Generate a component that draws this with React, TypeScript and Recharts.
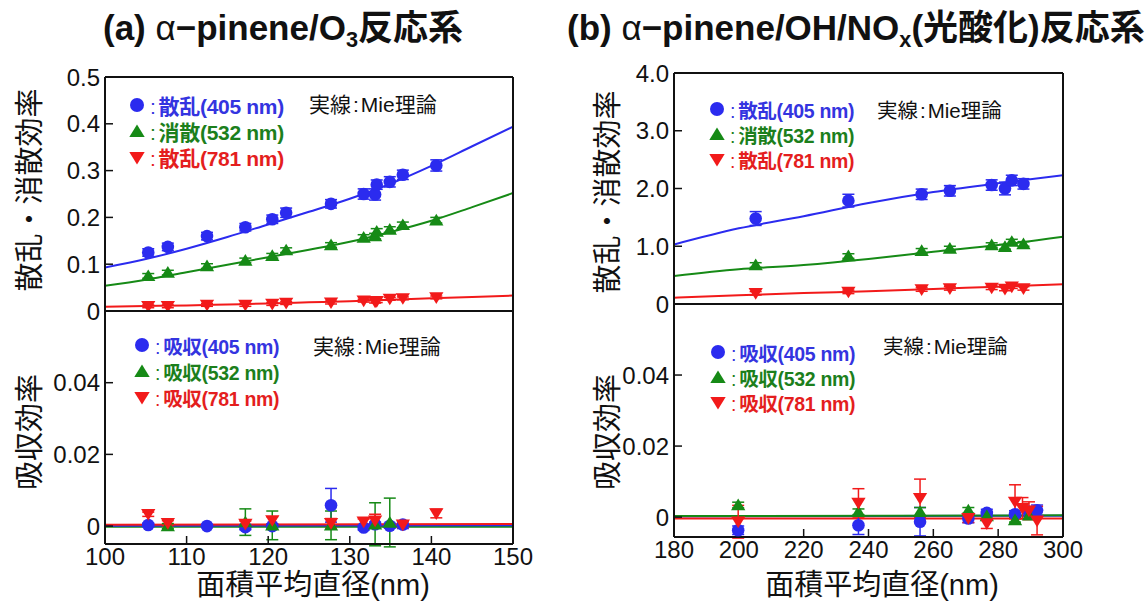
import React from "react";
import { ComposedChart, Scatter, Line, XAxis, YAxis, ErrorBar } from "recharts";

const FONT = '"Liberation Sans", Arial, "Noto Sans CJK JP", sans-serif';
const BLUE = "#2b2bef";
const GREEN = "#168a16";
const RED = "#f21a1a";
const TXT_BLUE = "#3434e0";
const TXT_GREEN = "#1c7f1c";
const TXT_RED = "#e41e1e";

// ---- (a) α-pinene/O3 : scattering / extinction efficiency ----
const aX = [105.3, 107.7, 112.5, 117.2, 120.5, 122.2, 127.7, 131.7, 133.1, 133.3, 134.9, 136.5, 140.6];
const aSca405 = [0.125, 0.137, 0.16, 0.179, 0.196, 0.21, 0.229, 0.25, 0.249, 0.27, 0.276, 0.291, 0.311];
const aSca405Err = [0.008, 0.008, 0.008, 0.008, 0.009, 0.01, 0.009, 0.011, 0.012, 0.01, 0.011, 0.01, 0.012];
const aExt532 = [0.075, 0.082, 0.096, 0.108, 0.118, 0.13, 0.141, 0.157, 0.16, 0.17, 0.174, 0.184, 0.194];
const aExt532Err = [0.005, 0.005, 0.005, 0.005, 0.005, 0.005, 0.005, 0.006, 0.006, 0.006, 0.006, 0.006, 0.006];
const aSca781 = [0.01, 0.01, 0.013, 0.013, 0.015, 0.017, 0.018, 0.022, 0.02, 0.021, 0.026, 0.027, 0.029];
const aSca781Err = [0.003, 0.003, 0.003, 0.003, 0.003, 0.003, 0.003, 0.003, 0.003, 0.003, 0.003, 0.003, 0.003];

// Mie theory curves (a)
const aCurveX = [100, 105, 110, 115, 120, 125, 130, 135, 140, 145, 150];
const aMie405 = [0.093, 0.111, 0.133, 0.158, 0.185, 0.212, 0.24, 0.272, 0.31, 0.352, 0.394];
const aMie532 = [0.054, 0.067, 0.083, 0.099, 0.115, 0.131, 0.148, 0.169, 0.193, 0.222, 0.252];
const aMie781 = [0.009, 0.0105, 0.012, 0.014, 0.016, 0.0185, 0.021, 0.024, 0.027, 0.03, 0.033];

// ---- (a) absorption efficiency ----
const aAbs405X = [105.3, 112.5, 117.2, 120.5, 127.7, 131.7, 133.1, 134.9, 136.5];
const aAbs405 = [0.0003, 0.0, -0.0003, 0.0, 0.0058, -0.0004, 0.0005, 0.0001, 0.0004];
const aAbs405Err = [0.0005, 0.0004, 0.0007, 0.0006, 0.0047, 0.0007, 0.0006, 0.0007, 0.0011];
const aAbs532X = [107.7, 117.2, 120.5, 127.7, 133.1, 134.9];
const aAbs532 = [0.0, 0.0011, 0.0002, 0.0002, 0.0005, 0.001];
const aAbs532Err = [0.0007, 0.0037, 0.004, 0.004, 0.006, 0.0068];
const aAbs781X = [105.3, 107.7, 117.2, 120.5, 127.7, 131.7, 133.1, 136.5, 140.6];
const aAbs781 = [0.0033, 0.0008, 0.0006, 0.0016, 0.0008, 0.0012, 0.0015, 0.0004, 0.0035];
const aAbs781Err = [0.0006, 0.0007, 0.0008, 0.001, 0.0013, 0.0008, 0.0018, 0.0008, 0.0012];

const aAbsCurveX = [100, 150];
const aAbsMie405 = [0.0001, 0.0002];
const aAbsMie532 = [-0.0002, -0.0002];
const aAbsMie781 = [0.0004, 0.0006];

// ---- (b) α-pinene/OH/NOx : scattering / extinction efficiency ----
const bX = [205.2, 233.8, 256.4, 265.1, 278.0, 282.1, 284.2, 287.8];
const bSca405 = [1.48, 1.79, 1.9, 1.96, 2.06, 2.0, 2.14, 2.08];
const bSca405Err = [0.12, 0.11, 0.09, 0.09, 0.09, 0.11, 0.09, 0.09];
const bExt532 = [0.675, 0.83, 0.92, 0.96, 1.02, 0.99, 1.08, 1.04];
const bExt532Err = [0.04, 0.04, 0.04, 0.04, 0.04, 0.04, 0.04, 0.04];
const bSca781 = [0.185, 0.21, 0.25, 0.27, 0.28, 0.26, 0.3, 0.27];
const bSca781Err = [0.03, 0.03, 0.03, 0.03, 0.03, 0.03, 0.03, 0.03];

const bCurveX = [180, 200, 220, 240, 260, 280, 300];
const bMie405 = [1.03, 1.31, 1.52, 1.75, 1.94, 2.09, 2.23];
const bMie532 = [0.485, 0.6, 0.675, 0.78, 0.905, 1.02, 1.165];
const bMie781 = [0.11, 0.15, 0.19, 0.22, 0.26, 0.3, 0.34];

// ---- (b) absorption efficiency ----
const bAbs405X = [199.8, 236.9, 255.9, 270.8, 276.5, 285.2, 289.5, 292.0];
const bAbs405 = [-0.0037, -0.0023, -0.0013, -0.0004, 0.0012, 0.0008, 0.0015, 0.0019];
const bAbs405Err = [0.0012, 0.0026, 0.004, 0.0012, 0.001, 0.001, 0.0012, 0.0015];
const bAbs532X = [199.8, 236.9, 255.9, 270.8, 276.5, 285.2, 289.5];
const bAbs532 = [0.0034, 0.0015, 0.0015, 0.0019, 0.0003, -0.0008, 0.0005];
const bAbs532Err = [0.0008, 0.0008, 0.0012, 0.0008, 0.0006, 0.0006, 0.001];
const bAbs781X = [199.8, 236.9, 255.9, 270.8, 276.5, 285.2, 287.5, 289.5, 292.0];
const bAbs781 = [-0.0013, 0.004, 0.0053, -0.0003, -0.0018, 0.0043, 0.0025, 0.0018, -0.001];
const bAbs781Err = [0.0046, 0.004, 0.0054, 0.0012, 0.0014, 0.0048, 0.003, 0.0025, 0.004];

const bAbsCurveX = [180, 300];
const bAbsMie405 = [0.0002, 0.0004];
const bAbsMie532 = [0.0003, 0.0005];
const bAbsMie781 = [-0.0004, -0.0004];

// axis ticks
const aXTicks = [100, 110, 120, 130, 140, 150];
const bXTicks = [180, 200, 220, 240, 260, 280, 300];
const aUpperTicks = [0, 0.1, 0.2, 0.3, 0.4, 0.5];
const bUpperTicks = [0, 1, 2, 3, 4];
const absTicks = [0, 0.02, 0.04];

type Pt = { x: number; y: number; e: number };
const zip = (xs: number[], ys: number[], es?: number[]): Pt[] =>
  xs.map((x, i) => ({ x, y: ys[i], e: es ? es[i] : 0 }));

type Kind = "circle" | "up" | "down";

function markerPath(kind: Kind, cx: number, cy: number, s: number) {
  if (kind === "up") return `M${cx},${cy - s} L${cx + s * 1.1},${cy + s * 0.8} L${cx - s * 1.1},${cy + s * 0.8}Z`;
  return `M${cx},${cy + s} L${cx + s * 1.1},${cy - s * 0.8} L${cx - s * 1.1},${cy - s * 0.8}Z`;
}

const makeShape = (kind: Kind, color: string) => (p: any) => {
  if (p.cx == null || p.cy == null) return <g />;
  if (kind === "circle") return <circle cx={p.cx} cy={p.cy} r={6.3} fill={color} />;
  return <path d={markerPath(kind, p.cx, p.cy, 6.5)} fill={color} />;
};

type Series = { data: Pt[]; color: string; kind: Kind };
type Curve = { data: Pt[]; color: string };
type Box = { left: number; top: number; right: number; bottom: number };

const axisLine = { stroke: "#111", strokeWidth: 2 };
const tickLine = { stroke: "#111", strokeWidth: 1.5 };
const tickFont = { fontSize: 24, fill: "#111", fontFamily: FONT };

// padding around the plot box inside each chart's svg
const PAD_L = 70;
const PAD_R = 30;
const PAD_T = 20;

function Panel(props: {
  box: Box;
  xDomain: [number, number];
  xTicks: number[];
  showX: boolean;
  yDomain: [number, number];
  yTicks: number[];
  yFmt: (v: number) => string;
  series: Series[];
  curves: Curve[];
}) {
  const { box, xDomain, xTicks, showX, yDomain, yTicks, yFmt, series, curves } = props;
  const plotW = box.right - box.left;
  const plotH = box.bottom - box.top;
  const w = plotW + PAD_L + PAD_R;
  const h = plotH + PAD_T + (showX ? 36 : 18);
  const bottomH = showX ? 30 : 1;
  return (
    <div style={{ position: "absolute", left: box.left - PAD_L, top: box.top - PAD_T }}>
      <ComposedChart
        width={w}
        height={h}
        margin={{
          top: PAD_T - 1,
          right: PAD_R - 1,
          left: PAD_L - 60,
          bottom: h - PAD_T - plotH - bottomH,
        }}
      >
        <XAxis
          dataKey="x"
          type="number"
          domain={xDomain}
          ticks={xTicks}
          allowDataOverflow
          interval={0}
          height={bottomH}
          tick={showX ? tickFont : false}
          tickSize={-8}
          tickMargin={12}
          axisLine={axisLine}
          tickLine={tickLine}
        />
        <XAxis
          xAxisId="top"
          orientation="top"
          dataKey="x"
          type="number"
          domain={xDomain}
          ticks={xTicks}
          allowDataOverflow
          interval={0}
          height={1}
          tick={false}
          tickSize={-8}
          axisLine={axisLine}
          tickLine={tickLine}
        />
        <YAxis
          dataKey="y"
          type="number"
          domain={yDomain}
          ticks={yTicks}
          allowDataOverflow
          interval={0}
          width={60}
          tick={tickFont}
          tickFormatter={yFmt}
          tickSize={-8}
          tickMargin={13}
          axisLine={axisLine}
          tickLine={tickLine}
        />
        <YAxis
          yAxisId="right"
          orientation="right"
          dataKey="y"
          type="number"
          domain={yDomain}
          ticks={yTicks}
          allowDataOverflow
          interval={0}
          width={1}
          tick={false}
          tickSize={-8}
          axisLine={axisLine}
          tickLine={tickLine}
        />
        {curves.map((c, i) => (
          <Line
            key={"c" + i}
            data={c.data}
            dataKey="y"
            type="monotone"
            stroke={c.color}
            strokeWidth={2}
            dot={false}
            activeDot={false}
            isAnimationActive={false}
          />
        ))}
        {series.map((s, i) => (
          <Scatter
            key={"s" + i}
            data={s.data}
            dataKey="y"
            shape={makeShape(s.kind, s.color)}
            isAnimationActive={false}
          >
            <ErrorBar dataKey="e" direction="y" width={6} stroke={s.color} strokeWidth={1.5} />
          </Scatter>
        ))}
      </ComposedChart>
    </div>
  );
}

function Marker({ kind, color }: { kind: Kind; color: string }) {
  return (
    <svg width={18} height={18} style={{ display: "block", flex: "none" }}>
      {kind === "circle" ? (
        <circle cx={9} cy={9} r={7} fill={color} />
      ) : (
        <path d={markerPath(kind, 9, 9.5, 7)} fill={color} />
      )}
    </svg>
  );
}

type Row = { kind: Kind; color: string; text: string };

function Key(props: { x: number; y: number; gap: number; size: number; rows: Row[] }) {
  const { x, y, gap, size, rows } = props;
  return (
    <div style={{ position: "absolute", left: x - 9, top: y - gap / 2 }}>
      {rows.map((r, i) => (
        <div key={i} style={{ display: "flex", alignItems: "center", height: gap }}>
          <Marker kind={r.kind} color={r.color} />
          <span
            style={{
              color: r.color === BLUE ? TXT_BLUE : r.color === GREEN ? TXT_GREEN : TXT_RED,
              fontSize: size,
              fontWeight: 700,
              whiteSpace: "nowrap",
              marginLeft: 4,
              letterSpacing: -0.3,
            }}
          >
            <span style={{ fontWeight: 400, marginRight: 3 }}>:</span>
            {r.text}
          </span>
        </div>
      ))}
    </div>
  );
}

function Note({ x, y, size }: { x: number; y: number; size: number }) {
  return (
    <div
      style={{
        position: "absolute",
        left: x,
        top: y - size * 0.6,
        fontSize: size,
        lineHeight: `${size * 1.2}px`,
        color: "#111",
        whiteSpace: "nowrap",
      }}
    >
      実線<span style={{ margin: "0 2px" }}>:</span>Mie理論
    </div>
  );
}

function VLabel({ cx, cy, text }: { cx: number; cy: number; text: string }) {
  return (
    <div
      style={{
        position: "absolute",
        left: cx,
        top: cy,
        transform: "translate(-50%, -50%) rotate(-90deg)",
        fontSize: 29,
        color: "#111",
        whiteSpace: "nowrap",
        lineHeight: "32px",
      }}
    >
      {text}
    </div>
  );
}

function XLabel({ cx, cy }: { cx: number; cy: number }) {
  return (
    <div
      style={{
        position: "absolute",
        left: cx,
        top: cy,
        transform: "translate(-50%, -50%)",
        fontSize: 29,
        color: "#111",
        whiteSpace: "nowrap",
        lineHeight: "30px",
      }}
    >
      面積平均直径(nm)
    </div>
  );
}

const fmtA = (v: number) => (v === 0 ? "0" : String(v));
const fmtB = (v: number) => (v === 0 ? "0" : v.toFixed(1));

const scaRows = (second: string): Row[] => [
  { kind: "circle", color: BLUE, text: "散乱(405 nm)" },
  { kind: "up", color: GREEN, text: `${second}(532 nm)` },
  { kind: "down", color: RED, text: "散乱(781 nm)" },
];
const absRows: Row[] = [
  { kind: "circle", color: BLUE, text: "吸収(405 nm)" },
  { kind: "up", color: GREEN, text: "吸収(532 nm)" },
  { kind: "down", color: RED, text: "吸収(781 nm)" },
];

export default function App() {
  const titleStyle: React.CSSProperties = {
    position: "absolute",
    top: 8,
    fontSize: 35,
    fontWeight: 700,
    lineHeight: "40px",
    color: "#111",
    whiteSpace: "nowrap",
  };
  const sub: React.CSSProperties = { fontSize: "0.62em", verticalAlign: "-0.3em", lineHeight: 0 };
  return (
    <div
      style={{
        position: "absolute",
        left: 0,
        top: 0,
        width: 1147,
        height: 603,
        background: "#fff",
        fontFamily: FONT,
        overflow: "hidden",
      }}
    >
      <div style={{ ...titleStyle, left: 103 }}>
        (a) <span style={{ fontWeight: 400 }}>α</span>−pinene/O<span style={sub}>3</span>反応系
      </div>
      <div style={{ ...titleStyle, left: 567 }}>
        (b) <span style={{ fontWeight: 400 }}>α</span>−pinene/OH/NO<span style={sub}>x</span>(光酸化)反応系
      </div>

      <Panel
        box={{ left: 105, top: 77, right: 513, bottom: 311 }}
        xDomain={[100, 150]}
        xTicks={aXTicks}
        showX={false}
        yDomain={[0, 0.5]}
        yTicks={aUpperTicks}
        yFmt={fmtA}
        curves={[
          { data: zip(aCurveX, aMie405), color: BLUE },
          { data: zip(aCurveX, aMie532), color: GREEN },
          { data: zip(aCurveX, aMie781), color: RED },
        ]}
        series={[
          { data: zip(aX, aSca405, aSca405Err), color: BLUE, kind: "circle" },
          { data: zip(aX, aExt532, aExt532Err), color: GREEN, kind: "up" },
          { data: zip(aX, aSca781, aSca781Err), color: RED, kind: "down" },
        ]}
      />
      <Panel
        box={{ left: 105, top: 311, right: 513, bottom: 544 }}
        xDomain={[100, 150]}
        xTicks={aXTicks}
        showX
        yDomain={[-0.005, 0.06]}
        yTicks={absTicks}
        yFmt={fmtA}
        curves={[
          { data: zip(aAbsCurveX, aAbsMie532), color: GREEN },
          { data: zip(aAbsCurveX, aAbsMie405), color: BLUE },
          { data: zip(aAbsCurveX, aAbsMie781), color: RED },
        ]}
        series={[
          { data: zip(aAbs405X, aAbs405, aAbs405Err), color: BLUE, kind: "circle" },
          { data: zip(aAbs532X, aAbs532, aAbs532Err), color: GREEN, kind: "up" },
          { data: zip(aAbs781X, aAbs781, aAbs781Err), color: RED, kind: "down" },
        ]}
      />
      <Panel
        box={{ left: 674, top: 73, right: 1063, bottom: 304 }}
        xDomain={[180, 300]}
        xTicks={bXTicks}
        showX={false}
        yDomain={[0, 4]}
        yTicks={bUpperTicks}
        yFmt={fmtB}
        curves={[
          { data: zip(bCurveX, bMie405), color: BLUE },
          { data: zip(bCurveX, bMie532), color: GREEN },
          { data: zip(bCurveX, bMie781), color: RED },
        ]}
        series={[
          { data: zip(bX, bSca405, bSca405Err), color: BLUE, kind: "circle" },
          { data: zip(bX, bExt532, bExt532Err), color: GREEN, kind: "up" },
          { data: zip(bX, bSca781, bSca781Err), color: RED, kind: "down" },
        ]}
      />
      <Panel
        box={{ left: 674, top: 304, right: 1063, bottom: 537 }}
        xDomain={[180, 300]}
        xTicks={bXTicks}
        showX
        yDomain={[-0.0056, 0.06]}
        yTicks={absTicks}
        yFmt={fmtA}
        curves={[
          { data: zip(bAbsCurveX, bAbsMie405), color: BLUE },
          { data: zip(bAbsCurveX, bAbsMie532), color: GREEN },
          { data: zip(bAbsCurveX, bAbsMie781), color: RED },
        ]}
        series={[
          { data: zip(bAbs405X, bAbs405, bAbs405Err), color: BLUE, kind: "circle" },
          { data: zip(bAbs532X, bAbs532, bAbs532Err), color: GREEN, kind: "up" },
          { data: zip(bAbs781X, bAbs781, bAbs781Err), color: RED, kind: "down" },
        ]}
      />

      <Key x={137} y={105} gap={26} size={21} rows={scaRows("消散")} />
      <Note x={309} y={105} size={21} />
      <Key x={142} y={345} gap={26} size={19.5} rows={absRows} />
      <Note x={313} y={347} size={21} />
      <Key x={717} y={109} gap={25} size={19.5} rows={scaRows("消散")} />
      <Note x={877} y={111} size={20.5} />
      <Key x={718} y={352} gap={25} size={19.5} rows={absRows} />
      <Note x={883} y={347} size={20.5} />

      <VLabel cx={30} cy={190} text="散乱・消散効率" />
      <VLabel cx={30} cy={432} text="吸収効率" />
      <VLabel cx={608} cy={192} text="散乱・消散効率" />
      <VLabel cx={608} cy={432} text="吸収効率" />
      <XLabel cx={313} cy={585} />
      <XLabel cx={882} cy={585} />
    </div>
  );
}
